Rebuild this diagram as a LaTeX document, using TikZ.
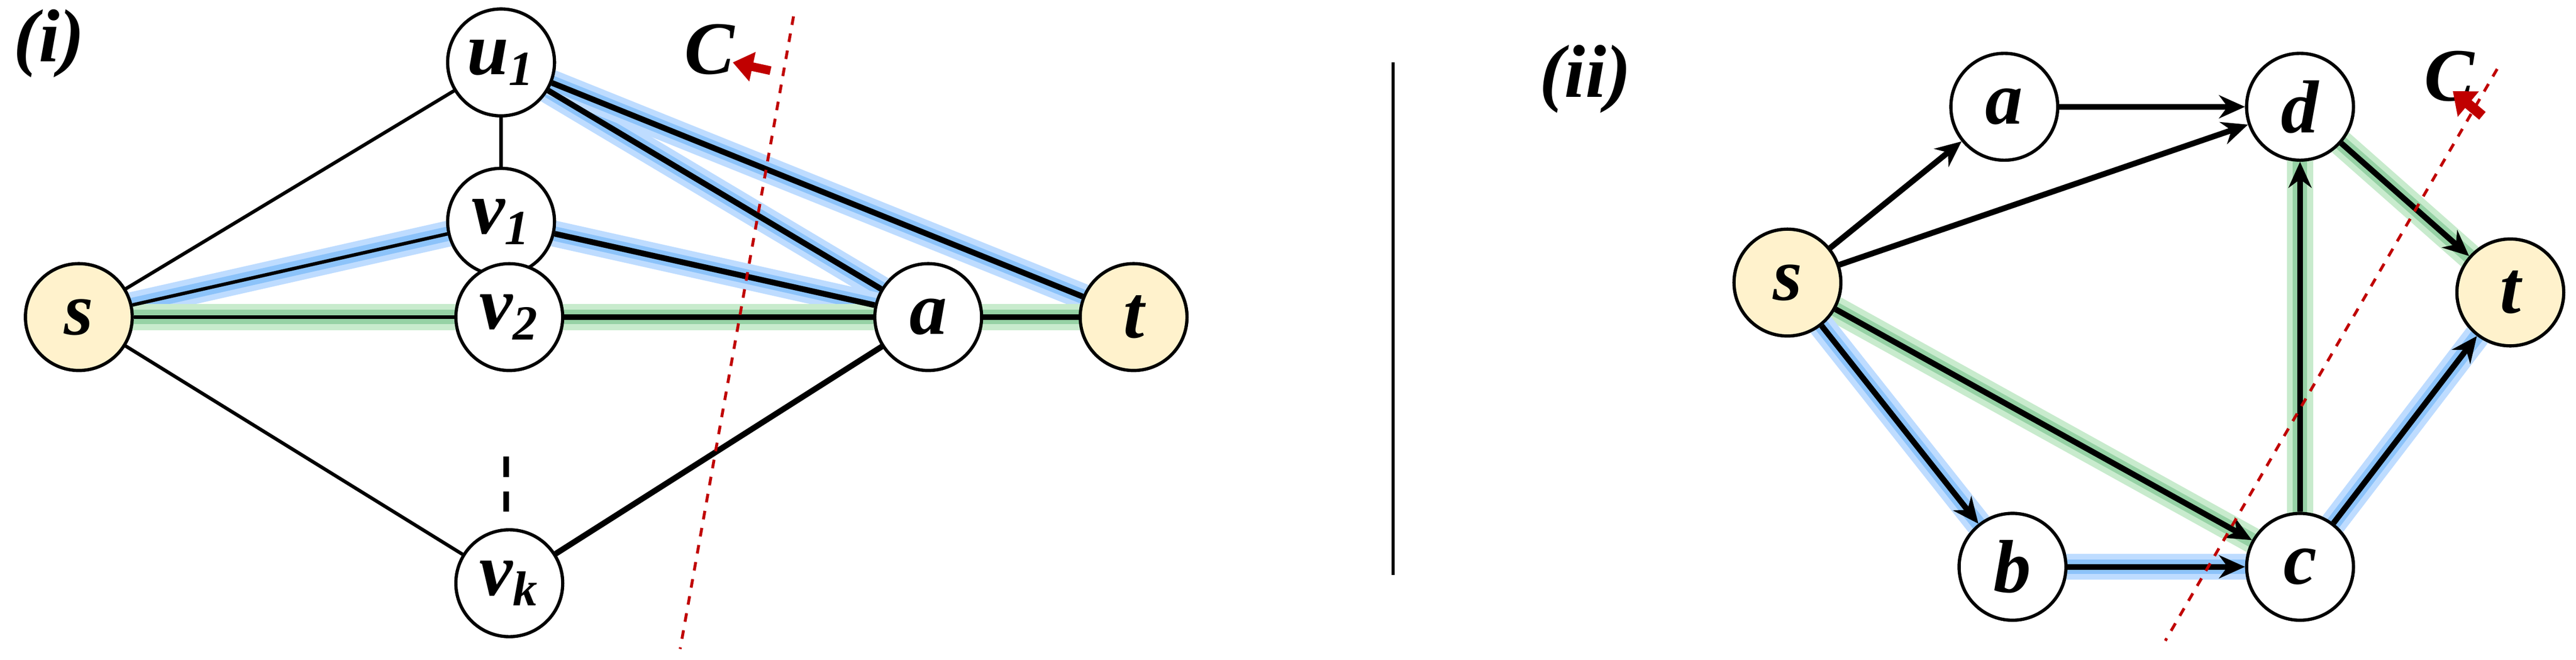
\documentclass[tikz,border=0pt]{standalone}
\usepackage{fontspec}
\setmainfont{Liberation Serif}
\usetikzlibrary{arrows.meta}
\definecolor{sy}{HTML}{FFF2CC}
\definecolor{cr}{HTML}{C00000}
\definecolor{gbl}{RGB}{190,220,255}
\definecolor{gbd}{RGB}{140,195,250}
\definecolor{ggl}{RGB}{200,235,205}
\definecolor{ggd}{RGB}{150,210,165}
\begin{document}
\begin{tikzpicture}[
  nd/.style={circle,draw=black,line width=1.1pt,fill=white,minimum size=1.3cm,inner sep=0pt,font=\fontsize{26}{30}\selectfont\bfseries\itshape},
  st/.style={nd,fill=sy},
  thin/.style={line width=1.2pt},
  thk/.style={line width=2pt},
  gb/.style={line width=9pt,draw=gbl,line cap=round,postaction={draw=gbd,line width=5pt}},
  gg/.style={line width=9pt,draw=ggl,line cap=round,postaction={draw=ggd,line width=5pt}},
  arr/.style={thk,-{Stealth[length=9pt,width=8pt]}},
  cut/.style={draw=cr,dashed,line width=1pt},
  lab/.style={font=\fontsize{26}{30}\selectfont\bfseries\itshape}
]
\useasboundingbox (0,0) rectangle (31.36,8.03);
% ---- left ----
\node[st] (s) at (0.96,4.17) {s};
\node[nd] (u1) at (6.10,7.27) {u\textsubscript{\fontsize{17}{20}\selectfont 1}};
\node[nd] (v1) at (6.10,5.33) {v\textsubscript{\fontsize{17}{20}\selectfont 1}};
\node[nd] (v2) at (6.20,4.17) {v\textsubscript{\fontsize{17}{20}\selectfont 2}};
\node[nd] (vk) at (6.20,0.93) {v\textsubscript{\fontsize{17}{20}\selectfont k}};
\node[nd] (a) at (11.30,4.17) {a};
\node[st] (t) at (13.80,4.17) {t};
% glows
\path[gb] (s) -- (v1);
\path[gb] (u1) -- (a);
\path[gb] (u1) -- (t);
\path[gb] (v1) -- (a);
\path[gg] (s) -- (v2);
\path[gg] (v2) -- (a);
\path[gg] (a) -- (t);
% edges
\draw[thin] (s) -- (u1);
\draw[thin] (s) -- (v1);
\draw[thin] (s) -- (v2);
\draw[thin] (s) -- (vk);
\draw[thin] (u1) -- (v1);
\draw[thk] (u1) -- (a);
\draw[thk] (u1) -- (t);
\draw[thk] (v1) -- (a);
\draw[thk] (v2) -- (a);
\draw[thk] (vk) -- (a);
\draw[thk] (a) -- (t);
% redraw nodes on top
\node[st] at (s) {s};
\node[nd] at (u1) {u\textsubscript{\fontsize{17}{20}\selectfont 1}};
\node[nd] at (v1) {v\textsubscript{\fontsize{17}{20}\selectfont 1}};
\node[nd] at (v2) {v\textsubscript{\fontsize{17}{20}\selectfont 2}};
\node[nd] at (vk) {v\textsubscript{\fontsize{17}{20}\selectfont k}};
\node[nd] at (a) {a};
\node[st] at (t) {t};
\coordinate (d1) at (6.16,2.47);
\coordinate (d2) at (6.16,1.73);
\draw[thk,dash pattern=on 7pt off 5pt] (d1) -- (d2);
\node[lab] (li) at (0.6,7.5) {(i)};
\node[lab] (lc1) at (8.64,7.43) {C};
\coordinate (ca1) at (9.38,7.17);
\coordinate (ca2) at (8.92,7.27);
\draw[draw=cr,line width=3pt,-{Triangle[length=7pt,width=10pt]}] (ca1) -- (ca2);
\coordinate (cl1) at (9.66,7.83);
\coordinate (cl2) at (8.28,0.13);
\draw[cut] (cl1) -- (cl2);
% separator
\coordinate (sp1) at (16.96,7.27);
\coordinate (sp2) at (16.96,1.03);
\draw[line width=1.2pt] (sp1) -- (sp2);
% ---- right ----
\node[st] (S) at (21.76,4.59) {s};
\node[nd] (A) at (24.4,6.73) {a};
\node[nd] (D) at (28.0,6.73) {d};
\node[st] (T) at (30.56,4.47) {t};
\node[nd] (B) at (24.5,1.13) {b};
\node[nd] (Cc) at (28.0,1.13) {c};
\path[gg] (S) -- (Cc);
\path[gg] (Cc) -- (D);
\path[gg] (D) -- (T);
\path[gb] (S) -- (B);
\path[gb] (B) -- (Cc);
\path[gb] (Cc) -- (T);
\draw[arr] (S) -- (A);
\draw[arr] (S) -- (D);
\draw[arr] (S) -- (Cc);
\draw[arr] (S) -- (B);
\draw[arr] (A) -- (D);
\draw[arr] (B) -- (Cc);
\draw[arr] (Cc) -- (D);
\draw[arr] (D) -- (T);
\draw[arr] (Cc) -- (T);
\node[st] at (S) {s};
\node[nd] at (A) {a};
\node[nd] at (D) {d};
\node[st] at (T) {t};
\node[nd] at (B) {b};
\node[nd] at (Cc) {c};
\node[lab] (lii) at (19.3,7.07) {(ii)};
\node[lab] (lc2) at (29.82,7.1) {C};
\coordinate (cb1) at (30.22,6.62);
\coordinate (cb2) at (29.86,6.92);
\draw[draw=cr,line width=3.5pt,-{Triangle[length=7pt,width=11pt]}] (cb1) -- (cb2);
\coordinate (cm1) at (30.4,7.19);
\coordinate (cm2) at (26.36,0.23);
\draw[cut] (cm1) -- (cm2);
\end{tikzpicture}
\end{document}
